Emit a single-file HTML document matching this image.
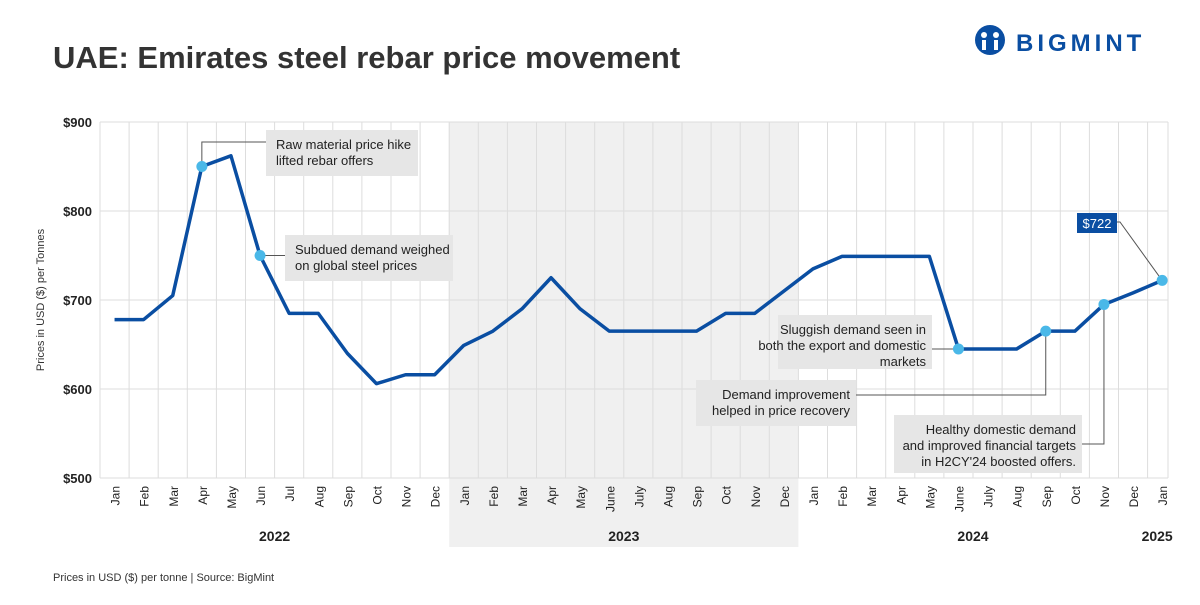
<!DOCTYPE html>
<html><head><meta charset="utf-8"><style>
body{margin:0;width:1200px;height:600px;background:#fff;font-family:"Liberation Sans",sans-serif;overflow:hidden}
svg text{font-family:"Liberation Sans",sans-serif}
</style></head><body>
<svg id="c" width="1200" height="600">
<text x="53" y="68" font-size="31" font-weight="bold" fill="#333">UAE: Emirates steel rebar price movement</text>
<g>
<circle cx="990" cy="40" r="15" fill="#0a4ea2"/>
<circle cx="984" cy="35" r="3" fill="#fff"/><circle cx="996" cy="35" r="3" fill="#fff"/>
<rect x="982" y="40" width="4" height="10" fill="#fff"/><rect x="994" y="40" width="4" height="10" fill="#fff"/>
<text x="1016" y="51" font-size="24" font-weight="bold" fill="#0a4ea2" letter-spacing="4">BIGMINT</text>
</g>
<text transform="translate(44,300) rotate(-90)" text-anchor="middle" font-size="11" fill="#333">Prices in USD ($) per Tonnes</text>
<text x="53" y="581" font-size="11" fill="#333">Prices in USD ($) per tonne | Source: BigMint</text>
<g id="grid"></g><g id="marks"></g><g id="notes"></g>
</svg>
<script>
const months=["Jan","Feb","Mar","Apr","May","Jun","Jul","Aug","Sep","Oct","Nov","Dec","Jan","Feb","Mar","Apr","May","June","July","Aug","Sep","Oct","Nov","Dec","Jan","Feb","Mar","Apr","May","June","July","Aug","Sep","Oct","Nov","Dec","Jan"];
const prices=[678,678,705,850,862,750,685,685,640,606,616,616,649,665,690,725,690,665,665,665,665,685,685,710,735,749,749,749,749,645,645,645,665,665,695,708,722];
const yTicks=[500,600,700,800,900];
const years=["2022","2023","2024","2025"];
const yearStart=[0,12,24,36];
const yearLen=[12,12,12,1];
const ns="http://www.w3.org/2000/svg";
const L=100,R=1168,T=122,B=478,cw=29.1;
const x=i=>L+(i+0.5)*cw, y=v=>B-(v-500)/400*(B-T);
function mk(tag,at,parent,txt){const e=document.createElementNS(ns,tag);for(const k in at)e.setAttribute(k,at[k]);if(txt!=null)e.textContent=txt;parent.appendChild(e);return e;}
const g=document.getElementById('grid'),m=document.getElementById('marks'),n=document.getElementById('notes');
let sh=mk('rect',{x:L+12*cw,y:T,width:12*cw,height:425,fill:"#f0f0f0"},g);


for(let i=0;i<=months.length;i++){const xx=Math.min(L+i*cw,R);mk('line',{x1:xx,x2:xx,y1:T,y2:B,stroke:"#ddd"},g);}
yTicks.forEach(v=>{mk('line',{x1:L,x2:R,y1:y(v),y2:y(v),stroke:"#ddd"},g);
let t=mk('text',{x:L-8,y:y(v)+5,"text-anchor":"end","font-size":13,"font-weight":"bold",fill:"#222"},g,"$"+v);

});
months.forEach((mo,i)=>{let t=mk('text',{transform:`translate(${x(i)+5},${B+8}) rotate(-90)`,"text-anchor":"end","font-size":12,fill:"#222"},g,mo);

});
years.forEach((yr,k)=>{let cx=L+(yearStart[k]+yearLen[k]/2)*cw; if(k==3)cx-=5;
let t=mk('text',{x:cx,y:541,"text-anchor":"middle","font-size":14,"font-weight":"bold",fill:"#222"},g,yr);

});
let line=mk('polyline',{points:prices.map((v,i)=>x(i)+","+y(v)).join(" "),fill:"none",stroke:"#0a4ea2","stroke-width":3.5,"stroke-linejoin":"round"},m);


const notes=[[3,"Raw material price hike|lifted rebar offers",266,130,152,46,"l"],[5,"Subdued demand weighed|on global steel prices",285,235,168,46,"l"],[29,"Sluggish demand seen in|both the export and domestic|markets",778,315,154,54,"r"],[32,"Demand improvement|helped in price recovery",696,380,160,46,"r"],[34,"Healthy domestic demand|and improved financial targets|in H2CY'24 boosted offers.",894,415,188,58,"r"]];
notes.forEach(([i,txt,bx,by,bw,bh,al])=>{
 const px=x(i),py=y(prices[i]);
 if(i==3)mk('polyline',{points:`${px},${py} ${px},142 ${bx},142`,fill:"none",stroke:"#555"},n);
 else if(i==5)mk('line',{x1:px,y1:py,x2:bx,y2:py,stroke:"#555"},n);
 else if(i==29)mk('line',{x1:bx+bw,y1:py,x2:px,y2:py,stroke:"#555"},n);
 else if(i==32)mk('polyline',{points:`${px},${py} ${px},395 ${bx+bw},395`,fill:"none",stroke:"#555"},n);
 else mk('polyline',{points:`${px},${py} ${px},444 ${bx+bw},444`,fill:"none",stroke:"#555"},n);
 let r=mk('rect',{x:bx,y:by,width:bw,height:bh,fill:"#e6e6e6"},n);
 
 
 txt.split("|").forEach((s,k)=>mk('text',{x:al=="l"?bx+10:bx+bw-6,y:by+19+k*16,"text-anchor":al=="l"?"start":"end","font-size":13,fill:"#222"},n,s));
 let d=mk('circle',{cx:px,cy:py,r:5.5,fill:"#4ab8e8"},n);
 
 
});
const li=prices.length-1;
mk('polyline',{points:`${x(li)},${y(prices[li])} 1120,222 1116,222`,fill:"none",stroke:"#555"},n);
let lb=mk('rect',{x:1077,y:213,width:40,height:20,fill:"#0a4ea2"},n);


mk('text',{x:1097,y:228,"text-anchor":"middle","font-size":13,fill:"#fff"},n,"$"+prices[li]);
let ld=mk('circle',{cx:x(li),cy:y(prices[li]),r:5.5,fill:"#4ab8e8"},n);


</script>
</body></html>
